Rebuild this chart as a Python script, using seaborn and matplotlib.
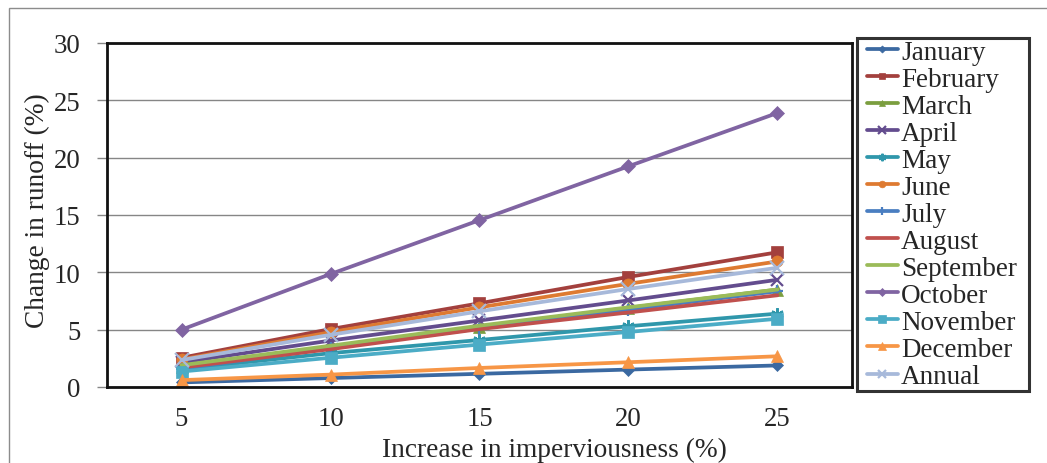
import matplotlib
matplotlib.use("Agg")
import matplotlib.pyplot as plt
import seaborn as sns
import pandas as pd
from matplotlib.patches import Rectangle
from matplotlib.lines import Line2D
from matplotlib.legend_handler import HandlerLine2D

imperviousness = ["5", "10", "15", "20", "25"]
months = ["January", "February", "March", "April", "May", "June", "July",
          "August", "September", "October", "November", "December", "Annual"]

january = [0.40, 0.78, 1.15, 1.52, 1.88]
february = [2.55, 5.05, 7.30, 9.60, 11.75]
march = [1.75, 3.50, 5.25, 6.90, 8.50]
april = [2.15, 4.05, 5.80, 7.55, 9.35]
may = [1.55, 2.95, 4.10, 5.30, 6.40]
june = [2.40, 4.78, 6.95, 9.00, 10.95]
july = [1.60, 3.40, 5.10, 6.75, 8.35]
august = [1.70, 3.30, 5.05, 6.50, 8.00]
september = [1.90, 3.60, 5.35, 6.95, 8.50]
october = [5.00, 9.85, 14.55, 19.25, 23.90]
november = [1.35, 2.55, 3.70, 4.80, 5.95]
december = [0.60, 1.08, 1.66, 2.16, 2.68]
annual = [2.35, 4.55, 6.60, 8.55, 10.40]

series_values = [january, february, march, april, may, june, july,
                 august, september, october, november, december, annual]

colors = ["#3B69A1", "#A3403D", "#7B9E3F", "#634C8E", "#2F97AB", "#DE7A31",
          "#4A7EC1", "#C0504D", "#9BBB59", "#8064A2", "#4BACC6", "#F79646",
          "#A7B9DA"]
markers = ["D", "s", "^", "x", (6, 2, 0), "o", "+", None, None, "D", "s", "^", "x"]
msizes = [6, 8, 8, 9, 9, 8, 9, 0, 0, 7, 9, 9, 10]

fig = plt.figure(figsize=(10.47, 4.64), dpi=100)
sns.set_style("white")
plt.rcParams["font.family"] = ["Liberation Serif", "DejaVu Serif"]

ax = fig.add_axes([107/1047, 1-388/464, 745/1047, 344/464])

rows = []
for m, vals in zip(months, series_values):
    for i, v in enumerate(vals):
        rows.append({"month": m, "pos": i, "value": v})
df = pd.DataFrame(rows)

for m, c, mk, ms in zip(months, colors, markers, msizes):
    sub = df[df["month"] == m]
    kw = dict(linewidth=2.7, color=c, label=m)
    if mk is not None:
        kw.update(marker=mk, markersize=ms, markeredgecolor=c, markerfacecolor=c,
                  markeredgewidth=1.6 if mk in ("x", "+", (6, 2, 0)) else 0.5)
    sns.lineplot(data=sub, x="pos", y="value", ax=ax, legend=False, **kw)

ax.set_xlim(-0.5, 4.5)
ax.set_ylim(0, 30)
ax.set_yticks([0, 5, 10, 15, 20, 25, 30])
ax.set_xticks(range(5))
ax.set_xticklabels(imperviousness)
ax.set_xticks([-0.5 + i for i in range(6)], minor=True)
ax.tick_params(axis="x", which="major", length=0, pad=14, labelsize=19.3)
ax.tick_params(axis="x", which="minor", length=7, color="#A0A0A0", width=1, direction="out")
ax.tick_params(axis="y", which="major", length=7, color="#868686", width=1,
               direction="out", pad=12, labelsize=19.3, left=True)
ax.yaxis.grid(True, color="#868686", linewidth=1)
ax.xaxis.grid(False)
for s in ax.spines.values():
    s.set_visible(True)
    s.set_color("#111111")
    s.set_linewidth(2)

ax.set_xlabel("Increase in imperviousness (%)", fontsize=19.7)
ax.set_ylabel("Change in runoff (%)", fontsize=19.7)
ax.xaxis.set_label_coords(0.601, -0.146)
ax.yaxis.set_label_coords(-0.077, 0.515)

handles, labels = ax.get_legend_handles_labels()
leg = fig.legend(handles, labels, loc="upper left",
                 bbox_to_anchor=(857/1047, 1-39/464, 172/1047, 0), mode="expand",
                 borderaxespad=0, fontsize=19.5, labelspacing=0.075,
                 handlelength=1.45, handletextpad=0.12, borderpad=0.06,
                 markerscale=0.6, fancybox=False, frameon=True,
                 handler_map={Line2D: HandlerLine2D(xpad=0.3)})
leg.get_frame().set_edgecolor("black")
leg.get_frame().set_linewidth(2.2)

fig.patches.append(Rectangle((9/1047, -0.2), 1.2, 1.2 - 9/464, transform=fig.transFigure,
                             fill=False, edgecolor="#8C8C8C", linewidth=1))

fig.savefig("out.png", dpi=100)
